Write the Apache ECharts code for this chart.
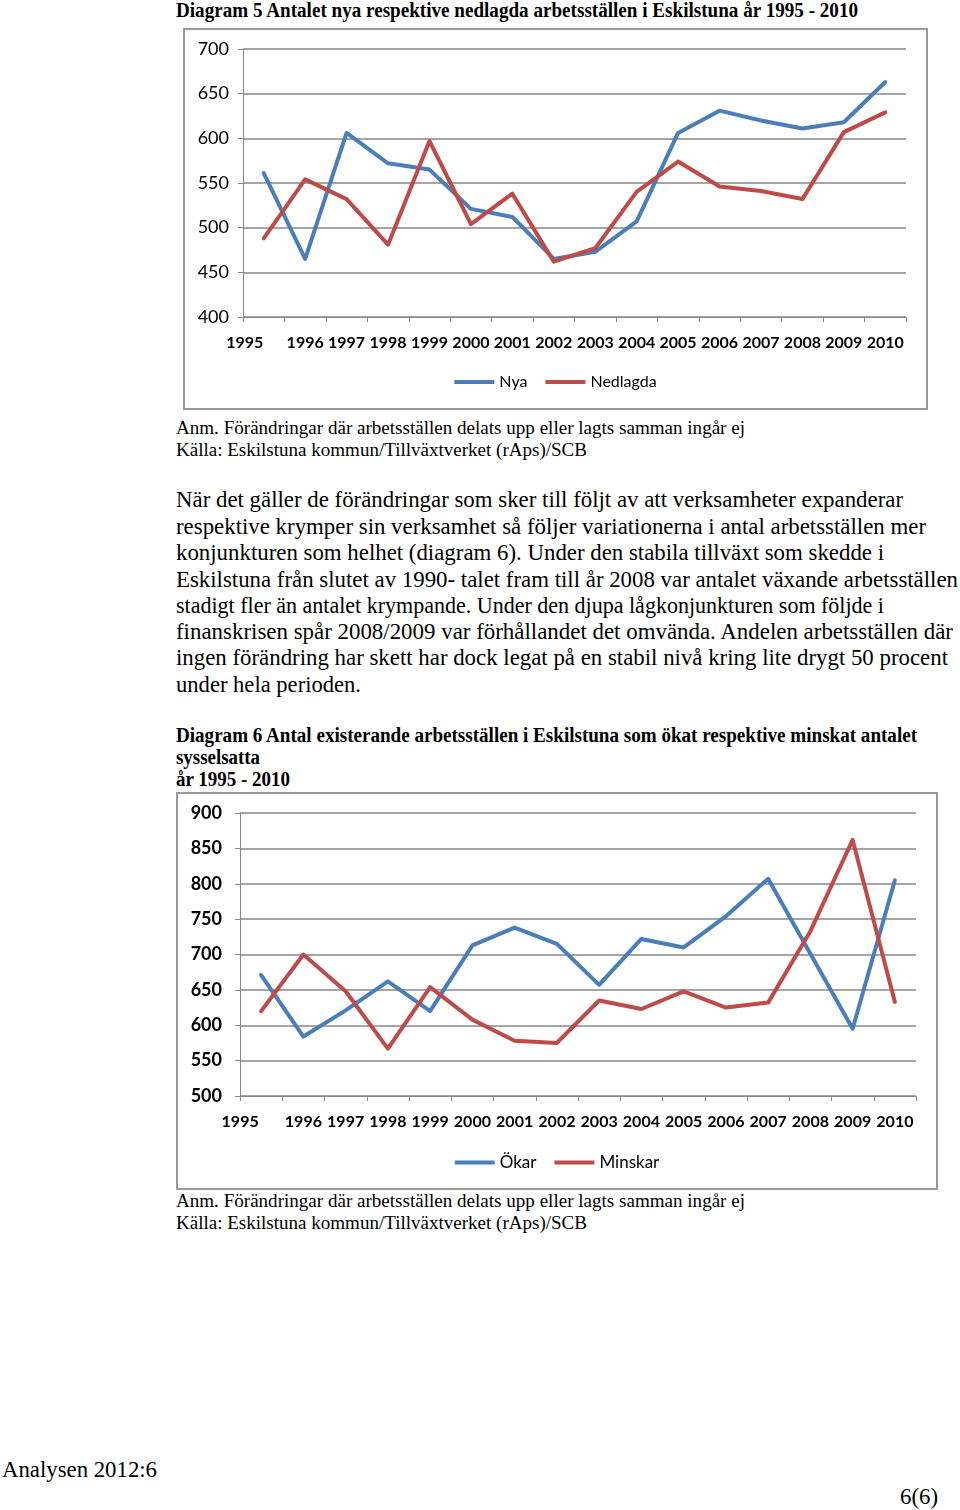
<!DOCTYPE html>
<html>
<head>
<meta charset="utf-8">
<script src="https://cdn.jsdelivr.net/npm/echarts@6/dist/echarts.min.js"></script>
<style>
  html, body { margin:0; padding:0; background:#fff; }
  body { width:960px; height:1510px; position:relative; overflow:hidden; }
  .box { position:absolute; box-sizing:border-box; border:2px solid #9a9a9a; background:#fff; }
  .chart { position:absolute; left:0; top:0; width:100%; height:100%; }
  .t { position:absolute; white-space:nowrap; transform-origin:0 0; color:#000; font-family:"Liberation Serif","Times New Roman",serif; }
</style>
</head>
<body>
<div class="box" style="left:183px;top:28px;width:745px;height:382px;"><div id="c1" class="chart"></div></div>
<div class="box" style="left:176px;top:792px;width:762px;height:398px;"><div id="c2" class="chart"></div></div>
<script>
// ---- data ----
const years = ['1995','1996','1997','1998','1999','2000','2001','2002','2003','2004','2005','2006','2007','2008','2009','2010'];
const nya       = [561, 465, 606, 572, 565, 521, 512, 465, 473, 507, 606, 631, 620, 611, 618, 663];
const nedlagda  = [488, 554, 532, 481, 597, 504, 538, 462, 477, 540, 574, 546, 541, 532, 607, 629];
const okar      = [671, 584, 621, 662, 620, 713, 738, 715, 657, 722, 710, 754, 807, 701, 595, 805];
const minskar   = [620, 700, 648, 567, 654, 608, 578, 575, 635, 623, 648, 625, 632, 733, 862, 633];

// ---- page text ----
// [text, left x, center y, target width, font size, bold]
const lines = [
  ['Diagram 5 Antalet nya respektive nedlagda arbetsställen i Eskilstuna år 1995 - 2010', 176, 10, 682, 20, true],
  ['Anm. Förändringar där arbetsställen delats upp eller lagts samman ingår ej', 176, 428, 569, 19, false],
  ['Källa: Eskilstuna kommun/Tillväxtverket (rAps)/SCB', 176, 450, 411, 19, false],
  ['När det gäller de förändringar som sker till följt av att verksamheter expanderar', 176, 500, 727, 23, false],
  ['respektive krymper sin verksamhet så följer variationerna i antal arbetsställen mer', 176, 527, 750, 23, false],
  ['konjunkturen som helhet (diagram 6). Under den stabila tillväxt som skedde i', 176, 553, 708, 23, false],
  ['Eskilstuna från slutet av 1990- talet fram till år 2008 var antalet växande arbetsställen', 176, 580, 782, 23, false],
  ['stadigt fler än antalet krympande. Under den djupa lågkonjunkturen som följde i', 176, 606, 708, 23, false],
  ['finanskrisen spår 2008/2009 var förhållandet det omvända. Andelen arbetsställen där', 176, 632, 777, 23, false],
  ['ingen förändring har skett har dock legat på en stabil nivå kring lite drygt 50 procent', 176, 658, 772, 23, false],
  ['under hela perioden.', 176, 685, 185, 23, false],
  ['Diagram 6 Antal existerande arbetsställen i Eskilstuna som ökat respektive minskat antalet', 176, 735, 741, 20, true],
  ['sysselsatta', 176, 757, 84, 20, true],
  ['år 1995 - 2010', 176, 779, 114, 20, true],
  ['Anm. Förändringar där arbetsställen delats upp eller lagts samman ingår ej', 176, 1201, 569, 19, false],
  ['Källa: Eskilstuna kommun/Tillväxtverket (rAps)/SCB', 176, 1223, 411, 19, false],
  ['Analysen 2012:6', 2, 1470, 155, 23, false],
  ['6(6)', 900, 1497, 38, 23, false]
];
lines.forEach(([txt, x, cy, w, size, bold]) => {
  const el = document.createElement('div');
  el.className = 't';
  el.textContent = txt;
  el.style.left = x + 'px';
  el.style.top = (cy - size * 0.52) + 'px';
  el.style.fontSize = size + 'px';
  el.style.lineHeight = size + 'px';
  el.style.fontWeight = bold ? 'bold' : 'normal';
  document.body.appendChild(el);
  const actual = el.getBoundingClientRect().width;
  el.style.transform = 'scaleX(' + (w / actual) + ')';
});

// ---- charts ----
const BLUE = '#4A7EBB', RED = '#BE4B48', GRID = '#878787';
function makeChart(id, cfg) {
  const chart = echarts.init(document.getElementById(id), null, { renderer: 'canvas' });
  chart.setOption({
    animation: false,
    backgroundColor: '#fff',
    textStyle: { fontFamily: 'Lato' },
    grid: cfg.grid,
    legend: {
      top: cfg.legendTop, left: 'center',
      icon: 'rect', itemWidth: 40, itemHeight: 4, itemGap: 18,
      textStyle: { fontFamily: 'Lato', fontSize: cfg.legendSize, color: '#000' },
      data: cfg.names
    },
    xAxis: {
      type: 'category', data: years, boundaryGap: true,
      axisLine: { show: true, lineStyle: { color: GRID, width: 1 } },
      axisTick: { show: true, length: 5, inside: false, alignWithLabel: false, interval: 0, lineStyle: { color: GRID } },
      axisLabel: {
        interval: 0, margin: 18, color: '#000', fontFamily: 'Lato', fontWeight: 'bold', fontSize: 16,
        formatter: (v, i) => i === 0 ? '{f|' + v + '}' : v,
        rich: { f: { fontFamily: 'Lato', fontWeight: 'bold', fontSize: 16, color: '#000', padding: [0, cfg.firstPad, 0, 0] } }
      },
      splitLine: { show: false }
    },
    yAxis: {
      type: 'value', min: cfg.min, max: cfg.max, interval: 50,
      axisLine: { show: true, lineStyle: { color: GRID, width: 1 } },
      axisTick: { show: true, length: 5, lineStyle: { color: GRID } },
      axisLabel: { margin: cfg.yMargin, color: '#000', fontFamily: 'Lato', fontSize: 18, fontWeight: cfg.yBold ? 'bold' : 'normal' },
      splitLine: { show: true, lineStyle: { color: GRID, width: 1.5 } }
    },
    series: cfg.series.map((s) => ({
      name: s.name, type: 'line', data: s.data, symbol: 'none', smooth: false,
      lineStyle: { color: s.color, width: 4, cap: 'round', join: 'round' },
      itemStyle: { color: s.color }
    }))
  });
}

makeChart('c1', {
  grid: { left: 58, right: 20, top: 19, bottom: 91 },
  legendTop: 339, legendSize: 16, names: ['Nya', 'Nedlagda'],
  min: 400, max: 700, yMargin: 14, yBold: false, firstPad: 38,
  series: [
    { name: 'Nya', data: nya, color: BLUE },
    { name: 'Nedlagda', data: nedlagda, color: RED }
  ]
});
makeChart('c2', {
  grid: { left: 62, right: 20, top: 19, bottom: 92 },
  legendTop: 355, legendSize: 17, names: ['Ökar', 'Minskar'],
  min: 500, max: 900, yMargin: 18, yBold: true, firstPad: 42,
  series: [
    { name: 'Ökar', data: okar, color: BLUE },
    { name: 'Minskar', data: minskar, color: RED }
  ]
});
</script>
</body>
</html>
